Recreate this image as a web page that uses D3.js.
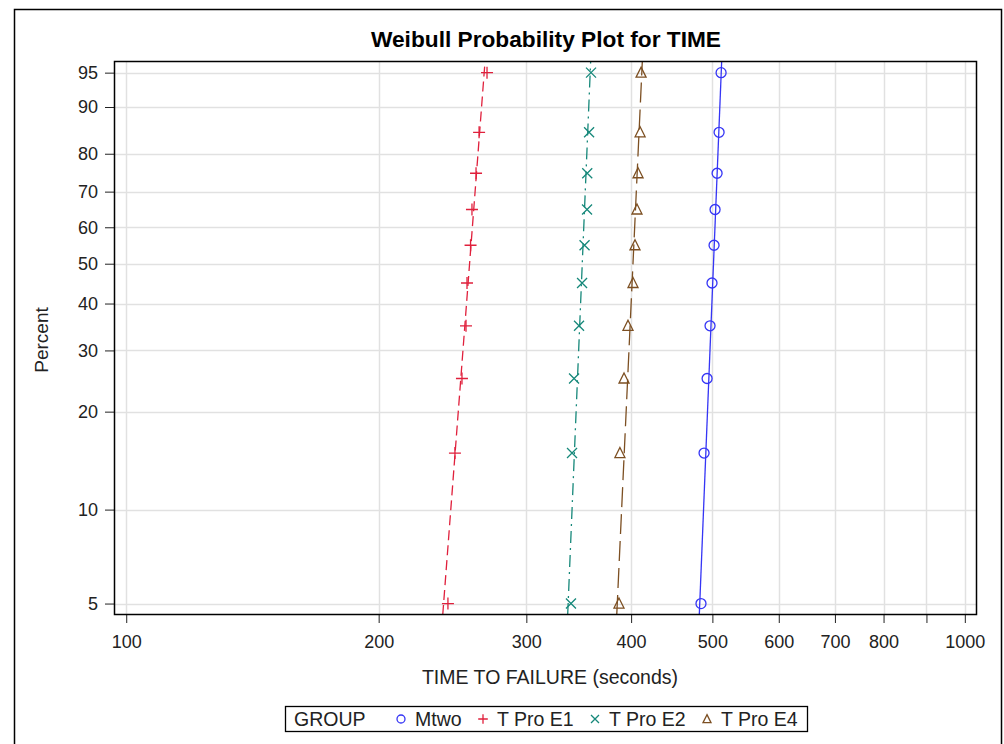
<!DOCTYPE html>
<html>
<head>
<meta charset="utf-8">
<script src="https://cdn.jsdelivr.net/npm/d3@7"></script>
<style>
body { margin: 0; background: #fff; }
text { font-family: "Liberation Sans", Arial, sans-serif; }
</style>
</head>
<body>
<svg id="chart" width="1004" height="744"></svg>
<script>
// plotting positions (percent) shared by every group
var percents = [5, 15, 25, 35, 45, 55, 65, 75, 85, 95];
var groups = ["Mtwo", "T Pro E1", "T Pro E2", "T Pro E4"];
var mtwoTimes = [484.6, 488.7, 492.8, 496.8, 499.5, 502.3, 503.7, 506.5, 509.3, 512.1];
var e1Times = [241.9, 246.6, 251.4, 254.2, 254.9, 257.4, 258.4, 261.3, 263.5, 269.3];
var e2Times = [339.1, 340.1, 342.0, 346.7, 349.6, 352.0, 354.4, 354.6, 356.4, 358.3];
var e4Times = [386.9, 387.9, 392.3, 396.6, 402.1, 404.3, 406.5, 407.7, 410.0, 411.1];
// fitted weibull lines (shape, scale) per group
var fitShape = [69.0, 36.5, 67.2, 60.4];
var fitScale = [504.2, 259.3, 351.7, 404.5];
var xTicks = [100, 200, 300, 400, 500, 600, 700, 800, 900, 1000];
var xLabels = ["100", "200", "300", "400", "500", "600", "700", "800", "", "1000"];
var yTicks = [5, 10, 20, 30, 40, 50, 60, 70, 80, 90, 95];

var colors = ["#3535f5", "#e0203c", "#16887a", "#7c4f22"];
var dashes = [null, "10,5", "12,5,2,5", "20,7"];
var allTimes = [mtwoTimes, e1Times, e2Times, e4Times];

var pLeft = 114, pRight = 977, pTop = 61, pBottom = 615;
var svg = d3.select("#chart");
var font = '"Liberation Sans", Arial, sans-serif';

// outer frame
svg.append("rect")
  .attr("x", 14.5).attr("y", 9.5)
  .attr("width", 987).attr("height", 760)
  .attr("fill", "none").attr("stroke", "#000").attr("stroke-width", 1.5);

function wb(p){ return Math.log(-Math.log(1 - p / 100)); }

var x = d3.scaleLog().domain([96.7, 1034]).range([pLeft, pRight]);
var y = d3.scaleLinear().domain([wb(4.59), wb(96.22)]).range([pBottom, pTop]);

var g = svg.append("g");

// grid
g.selectAll("line.vgrid").data(xTicks).enter().append("line")
  .attr("class", "vgrid")
  .attr("x1", function(d){ return Math.round(x(d)) + 0.5; })
  .attr("x2", function(d){ return Math.round(x(d)) + 0.5; })
  .attr("y1", pTop).attr("y2", pBottom)
  .attr("stroke", "#e1e1e1").attr("stroke-width", 1.5);
g.selectAll("line.hgrid").data(yTicks).enter().append("line")
  .attr("class", "hgrid")
  .attr("x1", pLeft).attr("x2", pRight)
  .attr("y1", function(d){ return Math.round(y(wb(d))) + 0.5; })
  .attr("y2", function(d){ return Math.round(y(wb(d))) + 0.5; })
  .attr("stroke", "#e1e1e1").attr("stroke-width", 1.5);

// axes
var xAxis = d3.axisBottom(x).tickValues(xTicks)
  .tickFormat(function(d, i){ return xLabels[i]; })
  .tickSizeOuter(0).tickSizeInner(8).tickPadding(12);
var ax = svg.append("g").attr("transform", "translate(0," + pBottom + ")").call(xAxis);
ax.select(".domain").remove();
ax.selectAll("text").attr("font-size", 18).attr("fill", "#222").style("font-family", font);
ax.selectAll("line").attr("stroke", "#222");

var yAxis = d3.axisLeft(y).tickValues(yTicks.map(wb))
  .tickFormat(function(d, i){ return yTicks[i]; })
  .tickSizeOuter(0).tickSizeInner(9).tickPadding(7);
var ay = svg.append("g").attr("transform", "translate(" + pLeft + ",0)").call(yAxis);
ay.select(".domain").remove();
ay.selectAll("text").attr("font-size", 18).attr("fill", "#222").style("font-family", font);
ay.selectAll("line").attr("stroke", "#222");

// clip for lines
svg.append("clipPath").attr("id", "plotclip").append("rect")
  .attr("x", pLeft).attr("y", pTop).attr("width", pRight - pLeft).attr("height", pBottom - pTop);

var wLo = y.domain()[0], wHi = y.domain()[1];
var line = d3.line().x(function(d){ return x(d[0]); }).y(function(d){ return y(d[1]); });

groups.forEach(function(name, i){
  var ends = [[fitScale[i] * Math.exp(wLo / fitShape[i]), wLo],
              [fitScale[i] * Math.exp(wHi / fitShape[i]), wHi]];
  svg.append("path").datum(ends)
    .attr("clip-path", "url(#plotclip)")
    .attr("d", line)
    .attr("fill", "none")
    .attr("stroke", colors[i])
    .attr("stroke-width", 1.3)
    .attr("stroke-dasharray", dashes[i]);
});

function marker(sel, i, s){
  if (i === 0) {
    sel.append("circle").attr("r", 5 * s).attr("fill", "none")
      .attr("stroke", colors[i]).attr("stroke-width", 1.3);
  } else if (i === 1) {
    sel.append("path").attr("d", "M-6,0H6M0,-6V6").attr("transform", "scale(" + s + ")")
      .attr("stroke", colors[i]).attr("stroke-width", 1.3 / s);
  } else if (i === 2) {
    sel.append("path").attr("d", "M-5,-5L5,5M-5,5L5,-5").attr("transform", "scale(" + s + ")")
      .attr("stroke", colors[i]).attr("stroke-width", 1.3 / s);
  } else {
    sel.append("path").attr("d", "M0,-5.5L5,4.5H-5Z").attr("transform", "scale(" + s + ")")
      .attr("fill", "none").attr("stroke", colors[i]).attr("stroke-width", 1.3 / s);
  }
}

groups.forEach(function(name, i){
  var pts = svg.append("g").selectAll("g").data(allTimes[i]).enter().append("g")
    .attr("transform", function(d, k){ return "translate(" + x(d) + "," + y(wb(percents[k])) + ")"; });
  pts.each(function(){ marker(d3.select(this), i, 1); });
});

// plot frame
svg.append("rect")
  .attr("x", pLeft + 0.5).attr("y", pTop + 0.5)
  .attr("width", pRight - pLeft - 1).attr("height", pBottom - pTop - 1)
  .attr("fill", "none").attr("stroke", "#000").attr("stroke-width", 1.5);

// title and axis labels
svg.append("text").attr("x", 546).attr("y", 47)
  .attr("text-anchor", "middle").attr("font-size", 22.7).attr("font-weight", "bold")
  .text("Weibull Probability Plot for TIME");
svg.append("text").attr("x", 550).attr("y", 684)
  .attr("text-anchor", "middle").attr("font-size", 19.5).attr("fill", "#222")
  .text("TIME TO FAILURE (seconds)");
svg.append("text").attr("transform", "translate(48,340) rotate(-90)")
  .attr("text-anchor", "middle").attr("font-size", 19).attr("fill", "#222")
  .text("Percent");

// legend
var lg = svg.append("g");
lg.append("rect").attr("x", 285.5).attr("y", 706.5).attr("width", 522).attr("height", 25)
  .attr("fill", "none").attr("stroke", "#000").attr("stroke-width", 1.3);
lg.append("text").attr("x", 294).attr("y", 726).attr("font-size", 19.5).attr("fill", "#222").text("GROUP");
var legX = [401, 483, 595, 707];
groups.forEach(function(name, i){
  var e = lg.append("g").attr("transform", "translate(" + legX[i] + ",719)");
  marker(e, i, 0.8);
  e.append("text").attr("x", 14).attr("y", 7).attr("font-size", 19.5).attr("fill", "#222").text(name);
});
</script>
</body>
</html>
